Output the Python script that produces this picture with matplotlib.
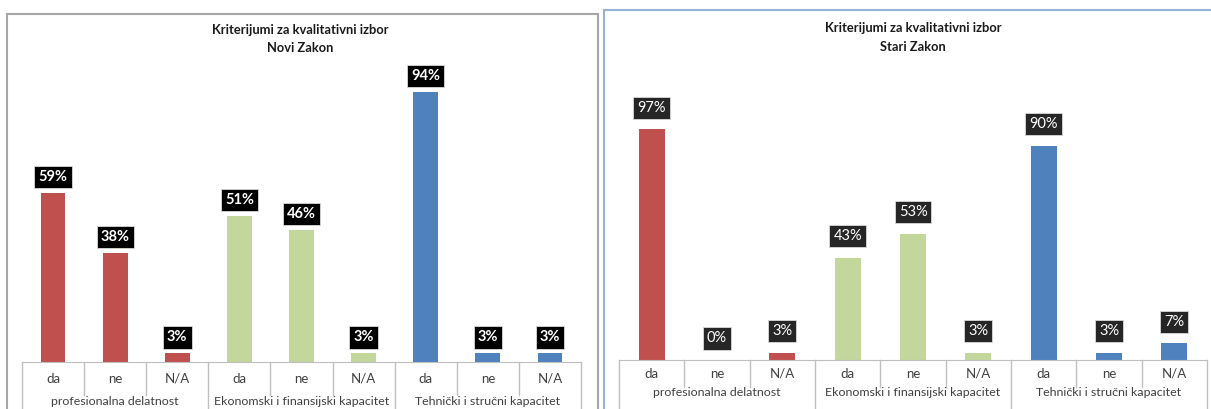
import numpy as np
import matplotlib as mpl
import matplotlib.pyplot as plt
from matplotlib.patches import Rectangle
from matplotlib.transforms import blended_transform_factory

mpl.use("Agg")

plt.rcParams.update({"font.family": ["Lato", "DejaVu Sans"]})

answers = ["da", "ne", "N/A"]
groups = ["profesionalna delatnost", "Ekonomski i finansijski kapacitet", "Tehnički i stručni kapacitet"]
novi_values = [59, 38, 3, 51, 46, 3, 94, 3, 3]
stari_values = [97, 0, 3, 43, 53, 3, 90, 3, 7]
group_colors = ["#C0504D", "#C3D69B", "#4F81BD"]

W, H = 1211, 409


def px_axes(fig, x0, x1, y_base, y_top):
    return fig.add_axes([x0 / W, (H - y_base) / H, (x1 - x0) / W, (y_base - y_top) / H])


def draw_panel(ax, values, box_color, bold_labels, label_offset):
    colors = [c for c in group_colors for _ in range(3)]
    x = np.arange(len(values))
    ax.bar(x, values, width=0.4, color=colors)
    ax.set_xlim(-0.5, len(values) - 0.5)
    ax.set_ylim(0, 100)
    for s in ["top", "right", "left"]:
        ax.spines[s].set_visible(False)
    ax.spines["bottom"].set_color("#bfbfbf")
    ax.set_yticks([])
    ax.set_xticks([])
    tr = blended_transform_factory(ax.transData, ax.transAxes)
    for i in range(len(values) + 1):
        xb = i - 0.5
        y_end = -0.5 if i % 3 == 0 else -0.115
        ax.plot([xb, xb], [0, y_end], transform=tr, color="#bfbfbf", lw=1, clip_on=False)
        if i < len(values):
            ax.text(i, -0.058, answers[i % 3], transform=tr, ha="center", va="center",
                    fontsize=9.5, color="#404040")
    for g, name in enumerate(groups):
        ax.text(3 * g + 1, -0.138, name, transform=tr, ha="center", va="center",
                fontsize=8.9, color="#404040")
    for xi, v in zip(x, values):
        ax.annotate(f"{v}%", (xi, v), xytext=(0, label_offset), textcoords="offset points",
                    ha="center", va="center", color="white", fontsize=10.5,
                    fontweight="bold" if bold_labels else "normal",
                    bbox=dict(boxstyle="square,pad=0.28", fc=box_color, ec="#d9d9d9", lw=0.6))
    return ax


fig = plt.figure(figsize=(W / 100, H / 100), dpi=100)
fig.patches.append(Rectangle((7 / W, -0.05), 591 / W, (H - 14) / H + 0.05,
                             transform=fig.transFigure, fill=False, ec="#a6a6a6", lw=1.5))
fig.patches.append(Rectangle((604 / W, -0.05), 620 / W, (H - 10) / H + 0.05,
                             transform=fig.transFigure, fill=False, ec="#95b3d7", lw=1.5))

ax1 = px_axes(fig, 22, 581, 362, 75)
draw_panel(ax1, novi_values, "black", True, 11.5)
ax2 = px_axes(fig, 619, 1207, 360, 122)
draw_panel(ax2, stari_values, "#262626", False, 15.5)

fig.text(300 / W, 1 - 30 / H, "Kriterijumi za kvalitativni izbor", ha="center", va="center",
         fontsize=9.3, fontweight="bold", color="#1a1a1a")
fig.text(300 / W, 1 - 48 / H, "Novi Zakon", ha="center", va="center",
         fontsize=9.3, fontweight="bold", color="#1a1a1a")
fig.text(913 / W, 1 - 28 / H, "Kriterijumi za kvalitativni izbor", ha="center", va="center",
         fontsize=9.3, fontweight="bold", color="#1a1a1a")
fig.text(913 / W, 1 - 47 / H, "Stari Zakon", ha="center", va="center",
         fontsize=9.3, fontweight="bold", color="#1a1a1a")

plt.savefig("out.png", dpi=100)
